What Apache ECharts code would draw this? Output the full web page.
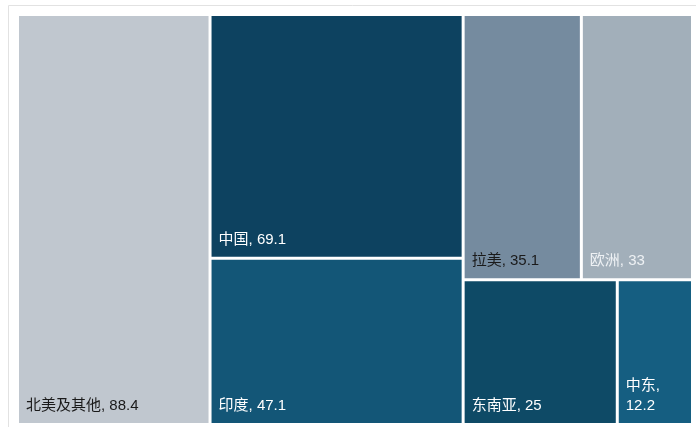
<!DOCTYPE html>
<html>
<head>
<meta charset="utf-8">
<script src="https://cdn.jsdelivr.net/npm/echarts@6/dist/echarts.min.js"></script>
<style>
html,body{margin:0;padding:0;background:#fff;}
#main{width:696px;height:427px;}
</style>
</head>
<body>
<div id="main"></div>
<script>
// 地区及占比
const regions = ['北美及其他', '中国', '印度', '拉美', '欧洲', '东南亚', '中东'];
const values = [88.4, 69.1, 47.1, 35.1, 33, 25, 12.2];
const colors = ['#c0c7cf', '#0d4260', '#135677', '#758b9f', '#a2afba', '#0e4a66', '#155e81'];
const labelColors = ['#1a1a1a', '#ffffff', '#ffffff', '#1a1a1a', '#eef1f4', '#ffffff', '#ffffff'];

const leaf = i => ({
  name: regions[i],
  value: values[i],
  itemStyle: { color: colors[i] },
  label: { color: labelColors[i] }
});

// 分组，让方块的排布和原图一致
const treeData = [
  leaf(0),
  { name: 'g1', children: [
    { name: 'g2', children: [leaf(1), leaf(2)] },
    { name: 'g3', children: [leaf(3), leaf(4)] },
    { name: 'g4', children: [leaf(5), leaf(6)] }
  ] }
];

const myChart = echarts.init(document.getElementById('main'));
myChart.setOption({
  animation: false,
  graphic: [{
    type: 'rect',
    shape: { x: 8.5, y: 5.5, width: 700, height: 440 },
    style: { fill: 'none', stroke: '#e2e2e2', lineWidth: 1 },
    silent: true
  }],
  series: [{
    type: 'treemap',
    left: 19, top: 16, right: 5, bottom: 4,
    sort: false,
    squareRatio: 1.24,
    roam: false,
    nodeClick: false,
    breadcrumb: { show: false },
    itemStyle: { gapWidth: 3, borderWidth: 0, borderColor: '#fff' },
    levels: [
      { itemStyle: { gapWidth: 3, borderWidth: 0 } },
      { itemStyle: { gapWidth: 3, borderWidth: 0 } },
      { itemStyle: { gapWidth: 3, borderWidth: 0 } },
      { itemStyle: { gapWidth: 3, borderWidth: 0 } }
    ],
    label: {
      show: true,
      position: 'insideBottomLeft',
      distance: 2,
      padding: 5,
      fontFamily: 'Liberation Sans, Arial, Noto Sans CJK SC, sans-serif',
      fontSize: 15,
      lineHeight: 20,
      formatter: p => p.name + ', ' + p.value,
      overflow: 'break'
    },
    data: treeData
  }]
});
</script>
</body>
</html>
